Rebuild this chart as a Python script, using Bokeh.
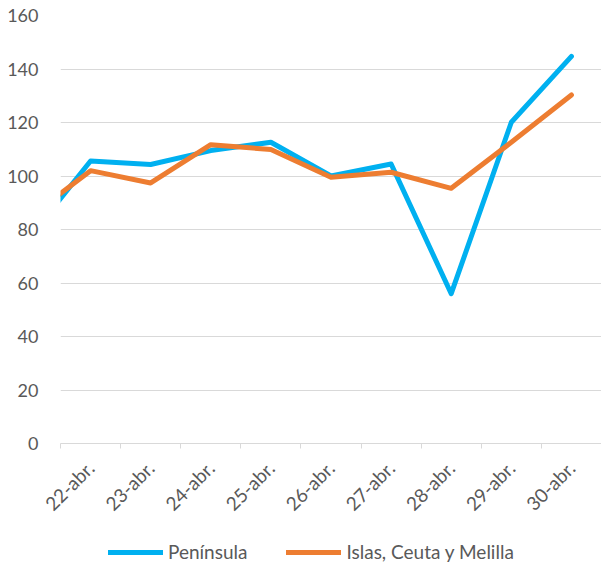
from math import pi
from bokeh.plotting import figure
from bokeh.layouts import column
from bokeh.models import Range1d, FixedTicker, Legend, LegendItem, ColumnDataSource
from bokeh.embed import file_html
from bokeh.resources import INLINE

# Data (first entry '21-abr.' lies just left of the visible range, as in the reference)
dates = ["21-abr.", "22-abr.", "23-abr.", "24-abr.", "25-abr.", "26-abr.",
         "27-abr.", "28-abr.", "29-abr.", "30-abr."]
peninsula = [77.5, 105.6, 104.3, 109.5, 112.6, 100.0, 104.5, 56.0, 120.1, 144.7]
islas = [85.0, 102.0, 97.4, 111.7, 109.9, 99.5, 101.4, 95.4, 112.6, 130.3]
y_ticks = [0, 20, 40, 60, 80, 100, 120, 140, 160]
series_names = ["Península", "Islas, Ceuta y Melilla"]

FONT = "Lato"
TXT = "#595959"
GRID = "#d9d9d9"
BLUE = "#00B0F0"
ORANGE = "#ED7D31"

xs = list(range(len(dates)))
src = ColumnDataSource(dict(x=xs, pen=peninsula, isl=islas))

p = figure(width=601, height=530, output_backend="svg", toolbar_location=None,
           x_range=Range1d(0.5, len(dates) - 0.5), y_range=Range1d(0, 160),
           min_border_top=15, min_border_left=60, min_border_right=0, min_border_bottom=87)
p.outline_line_color = None

p.line("x", "pen", source=src, line_color=BLUE, line_width=5, line_cap="round", line_join="round")
p.line("x", "isl", source=src, line_color=ORANGE, line_width=5, line_cap="round", line_join="round")

# x axis
p.xaxis.ticker = FixedTicker(ticks=xs[1:], minor_ticks=[i + 0.5 for i in xs])
p.xaxis.major_label_overrides = {i: dates[i] for i in xs[1:]}
p.xaxis.major_label_orientation = pi / 4
p.xaxis.major_tick_line_color = None
p.xaxis.major_tick_out = 0
p.xaxis.major_tick_in = 0
p.xaxis.minor_tick_line_color = GRID
p.xaxis.minor_tick_in = 0
p.xaxis.minor_tick_out = 5
p.xaxis.axis_line_color = GRID
p.xaxis.major_label_text_font = FONT
p.xaxis.major_label_text_font_size = "19px"
p.xaxis.major_label_text_color = TXT
p.xaxis.major_label_standoff = 16

# y axis
p.yaxis.ticker = FixedTicker(ticks=y_ticks)
p.yaxis.axis_line_color = None
p.yaxis.major_tick_line_color = None
p.yaxis.major_tick_out = 0
p.yaxis.minor_tick_line_color = None
p.yaxis.major_label_text_font = FONT
p.yaxis.major_label_text_font_size = "18px"
p.yaxis.major_label_text_color = TXT
p.yaxis.major_label_standoff = 22

p.xgrid.grid_line_color = None
p.ygrid.grid_line_color = GRID
p.ygrid.grid_line_width = 1

# Legend strip (same series; its view range keeps the data out of sight so only the keys show)
lg = figure(width=601, height=37, output_backend="svg", toolbar_location=None,
            x_range=Range1d(0.5, len(dates) - 0.5), y_range=Range1d(-2, -1),
            x_axis_location=None, y_axis_location=None, min_border=0)
lg.outline_line_color = None
lg.grid.visible = False
k1 = lg.line("x", "pen", source=src, line_color=BLUE, line_width=5, line_cap="round")
k2 = lg.line("x", "isl", source=src, line_color=ORANGE, line_width=5, line_cap="round")

legend = Legend(items=[LegendItem(label=series_names[0], renderers=[k1]),
                       LegendItem(label=series_names[1], renderers=[k2])],
                orientation="horizontal", location=(48, 4),
                glyph_width=55, glyph_height=20, label_height=20, label_standoff=5, spacing=39,
                padding=0, margin=0, border_line_color=None, background_fill_alpha=0,
                label_text_font=FONT, label_text_font_size="19px", label_text_color=TXT)
lg.add_layout(legend, "center")

layout = column(p, lg)
open("out.html", "w").write(file_html(layout, INLINE))
